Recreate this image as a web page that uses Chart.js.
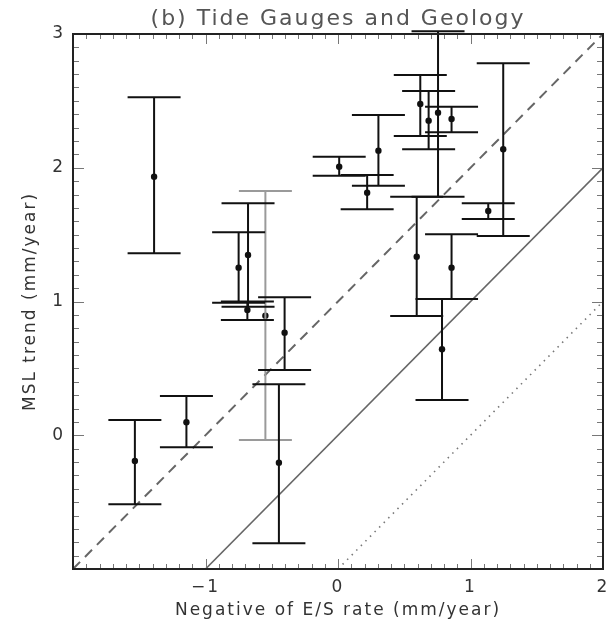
<!DOCTYPE html>
<html>
<head>
<meta charset="utf-8">
<script src="https://cdn.jsdelivr.net/npm/chart.js@4.4.1/dist/chart.umd.min.js"></script>
<style>
  html, body { margin: 0; padding: 0; background: #fff; }
  #c { display: block; }
</style>
</head>
<body>
<canvas id="c" width="607" height="629"></canvas>
<script>
// ---- Data ----
const stationX    = [-1.533, -1.388, -1.144, -0.750, -0.679, -0.684, -0.446, -0.403, 0.009, 0.220, 0.305, 0.594, 0.621, 0.684, 0.755, 0.785, 0.857, 0.857, 1.134, 1.247];
const stationMSL  = [-0.193,  1.933,  0.097,  1.253,  1.348,  0.936, -0.205,  0.767, 2.008, 1.813, 2.128, 1.335, 2.477, 2.352, 2.412, 0.643, 2.364, 1.253, 1.677, 2.138];
const stationHigh = [ 0.114,  2.527,  0.293,  1.517,  1.734,  1.000,  0.381,  1.031, 2.083, 1.946, 2.394, 1.784, 2.693, 2.574, 3.020, 1.019, 2.457, 1.502, 1.734, 2.781];
const stationLow  = [-0.516,  1.360, -0.090,  0.991,  0.961,  0.862, -0.808,  0.488, 1.941, 1.689, 1.866, 0.892, 2.237, 2.138, 1.784, 0.264, 2.265, 1.019, 1.617, 1.490];

// one station drawn in grey
const greyX    = [-0.548];
const greyMSL  = [0.894];
const greyHigh = [1.826];
const greyLow  = [-0.036];

// reference lines y = x + offset, given by their end points
const dashedLine = [{x: -2, y: -1}, {x: 2, y: 3}];
const solidLine  = [{x: -1, y: -1}, {x: 2, y: 2}];
const dottedLine = [{x: 0, y: -1}, {x: 2, y: 1}];

const xTickLabels = [-1, 0, 1, 2];
const yTickLabels = [0, 1, 2, 3];

// ---- Chart ----
const toPts = (xs, ys) => xs.map((x, i) => ({x: x, y: ys[i]}));

const spacingPlugin = {
  id: 'letterSpacing',
  beforeDraw(chart) { chart.ctx.letterSpacing = '2px'; }
};

const errorBarPlugin = {
  id: 'errorBars',
  afterDatasetsDraw(chart, args, opts) {
    const ctx = chart.ctx, xs = chart.scales.x, ys = chart.scales.y;
    const half = opts.capHalf;
    const drawSet = (X, H, L, color) => {
      ctx.save();
      ctx.strokeStyle = color;
      ctx.lineWidth = 2;
      ctx.lineCap = 'butt';
      X.forEach((x, i) => {
        const px = xs.getPixelForValue(x);
        const pl = xs.getPixelForValue(x - half);
        const pr = xs.getPixelForValue(x + half);
        const pt = ys.getPixelForValue(H[i]);
        const pb = ys.getPixelForValue(L[i]);
        ctx.beginPath();
        ctx.moveTo(px, pt); ctx.lineTo(px, pb);
        ctx.moveTo(pl, pt); ctx.lineTo(pr, pt);
        ctx.moveTo(pl, pb); ctx.lineTo(pr, pb);
        ctx.stroke();
      });
      ctx.restore();
    };
    drawSet(greyX, greyHigh, greyLow, '#9a9a9a');
    drawSet(stationX, stationHigh, stationLow, '#111');
  }
};

const framePlugin = {
  id: 'frameTicks',
  afterDraw(chart) {
    const ctx = chart.ctx, xs = chart.scales.x, ys = chart.scales.y;
    const a = chart.chartArea;
    ctx.save();
    ctx.strokeStyle = '#777';
    ctx.lineWidth = 1;
    ctx.beginPath();
    for (let i = -20; i <= 20; i++) {
      const v = i / 10;
      const major = i % 10 === 0;
      const len = major ? 10 : 5;
      const p = Math.round(xs.getPixelForValue(v)) + 0.5;
      ctx.moveTo(p, a.bottom); ctx.lineTo(p, a.bottom - len);
      ctx.moveTo(p, a.top); ctx.lineTo(p, a.top + len);
    }
    for (let i = -10; i <= 30; i++) {
      const v = i / 10;
      const major = i % 10 === 0;
      const len = major ? 11 : 6;
      const p = Math.round(ys.getPixelForValue(v)) + 0.5;
      ctx.moveTo(a.left, p); ctx.lineTo(a.left + len, p);
      ctx.moveTo(a.right, p); ctx.lineTo(a.right - len, p);
    }
    ctx.stroke();
    ctx.strokeStyle = '#222';
    ctx.lineWidth = 2;
    ctx.strokeRect(a.left, a.top, a.right - a.left, a.bottom - a.top);
    ctx.restore();
  }
};

new Chart(document.getElementById('c'), {
  type: 'scatter',
  data: {
    datasets: [
      { type: 'line', data: dashedLine, borderColor: '#666', borderWidth: 2, borderDash: [10, 7], pointRadius: 0, fill: false },
      { type: 'line', data: solidLine, borderColor: '#666', borderWidth: 1.6, pointRadius: 0, fill: false },
      { type: 'line', data: dottedLine, borderColor: '#777', borderWidth: 1.6, borderDash: [1.5, 5], pointRadius: 0, fill: false },
      { data: toPts(greyX, greyMSL), pointRadius: 3.2, pointBackgroundColor: '#111', pointBorderWidth: 0 },
      { data: toPts(stationX, stationMSL), pointRadius: 3.2, pointBackgroundColor: '#111', pointBorderWidth: 0 }
    ]
  },
  options: {
    responsive: false,
    animation: false,
    devicePixelRatio: 1,
    layout: { padding: { left: 0, right: 3, top: 0, bottom: 0 } },
    plugins: {
      legend: { display: false },
      tooltip: { enabled: false },
      errorBars: { capHalf: 0.2 },
      title: {
        display: true,
        text: '(b) Tide Gauges and Geology',
        fullSize: false,
        color: '#555',
        font: { family: 'DejaVu Sans', size: 22, weight: 'normal', lineHeight: 1.2 },
        padding: { top: 6, bottom: 1.6 }
      }
    },
    scales: {
      x: {
        type: 'linear', min: -2, max: 2,
        afterFit(s) { s.height = 60; s.paddingLeft = 0; s.paddingRight = 0; },
        afterBuildTicks(s) { s.ticks = [-2].concat(xTickLabels).map(v => ({value: v})); },
        grid: { display: false, drawTicks: false },
        border: { display: false },
        ticks: {
          color: '#333', padding: 8,
          font: { family: 'DejaVu Sans', size: 17 },
          maxRotation: 0, autoSkip: false,
          callback: v => xTickLabels.includes(v) ? String(v).replace('-', '\u2212') : ''
        },
        title: {
          display: true, text: 'Negative of E/S rate (mm/year)', color: '#333',
          font: { family: 'DejaVu Sans', size: 17 },
          padding: { top: 0, bottom: 8 }
        }
      },
      y: {
        type: 'linear', min: -1, max: 3,
        afterFit(s) { s.width = 73; s.paddingTop = 0; s.paddingBottom = 0; },
        afterBuildTicks(s) { s.ticks = [-1].concat(yTickLabels).map(v => ({value: v})); },
        grid: { display: false, drawTicks: false },
        border: { display: false },
        ticks: {
          color: '#333', padding: 8,
          font: { family: 'DejaVu Sans', size: 17 },
          autoSkip: false,
          callback: v => yTickLabels.includes(v) ? String(v) : ''
        },
        title: {
          display: true, text: 'MSL trend (mm/year)', color: '#333',
          font: { family: 'DejaVu Sans', size: 17 },
          padding: { top: 20, bottom: 0 }
        }
      }
    }
  },
  plugins: [spacingPlugin, errorBarPlugin, framePlugin]
});
</script>
</body>
</html>
